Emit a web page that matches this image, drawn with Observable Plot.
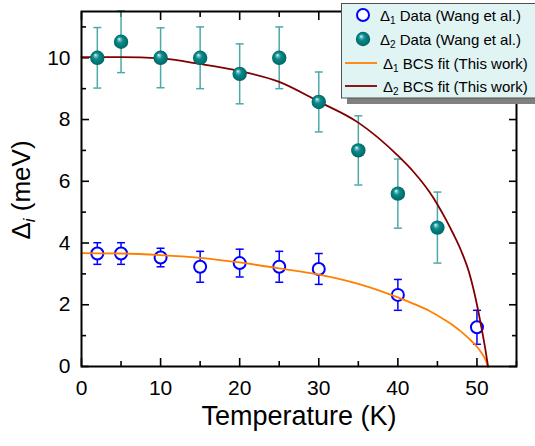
<!DOCTYPE html>
<html><head><meta charset="utf-8">
<script src="https://cdn.jsdelivr.net/npm/d3@7"></script>
<script src="https://cdn.jsdelivr.net/npm/@observablehq/plot@0.6"></script>
<style>html,body{margin:0;padding:0;background:#fff;overflow:hidden}</style>
</head><body><div id="chart"></div>
<script>
// Δ1 data (Wang et al.)
const T1 = [2, 5, 10, 15, 20, 25, 30, 40, 50];
const D1 = [3.66, 3.66, 3.53, 3.23, 3.35, 3.23, 3.16, 2.32, 1.27];
const E1 = [0.35, 0.35, 0.30, 0.50, 0.45, 0.50, 0.50, 0.50, 0.55];
// Δ2 data (Wang et al.)
const T2 = [2, 5, 10, 15, 20, 25, 30, 35, 40, 45];
const D2 = [10.0, 10.52, 10.0, 10.0, 9.48, 10.0, 8.57, 7.0, 5.6, 4.5];
const E2 = [0.98, 1.0, 0.97, 1.0, 0.97, 1.0, 0.97, 1.12, 1.12, 1.15];
// BCS fit curves
const FT1 = [0, 5, 10, 15, 20, 25, 30, 35, 40, 42, 44, 46, 47, 48, 49, 50, 50.5, 51, 51.4];
const FD1 = [3.67, 3.66, 3.61, 3.52, 3.37, 3.18, 2.98, 2.68, 2.24, 2.03, 1.8, 1.5, 1.33, 1.13, 0.9, 0.64, 0.47, 0.26, 0];
const FT2 = [0, 5, 10, 15, 20, 25, 30, 35, 40, 42, 44, 45, 46, 47, 48, 49, 50, 50.5, 51, 51.4];
const FD2 = [10.02, 10.02, 9.98, 9.8, 9.57, 9.22, 8.58, 7.9, 6.83, 6.3, 5.65, 5.25, 4.8, 4.3, 3.75, 3.05, 2.0, 1.35, 0.65, 0];
// ticks
const xMajor = [0, 10, 20, 30, 40, 50];
const xMinor = [5, 15, 25, 35, 45, 55];
const yMajor = [0, 2, 4, 6, 8, 10];
const yMinor = [1, 3, 5, 7, 9, 11];
// labels
const xLabel = "Temperature (K)";
const legendLabels = ["Data (Wang et al.)", "Data (Wang et al.)", "BCS fit (This work)", "BCS fit (This work)"];

const d1 = T1.map((t, i) => ({T: t, v: D1[i], e: E1[i]}));
const d2 = T2.map((t, i) => ({T: t, v: D2[i], e: E2[i]}));
const f1 = FT1.map((t, i) => ({T: t, v: FD1[i]}));
const f2 = FT2.map((t, i) => ({T: t, v: FD2[i]}));

const cap = {draw(ctx, size) { const w = Math.sqrt(size / Math.PI); ctx.moveTo(-w, 0); ctx.lineTo(w, 0); }};

const blue = "#0000ff", tealBar = "#4fa8a8", orange = "#ff8000", dred = "#800000";
const font = "Liberation Sans, Arial, sans-serif";

function errMarks(data, color) {
  return [
    Plot.ruleX(data, {x: "T", y1: d => d.v - d.e, y2: d => d.v + d.e, stroke: color, strokeWidth: 1.5}),
    Plot.dot(data, {x: "T", y: d => d.v + d.e, symbol: cap, r: 4, stroke: color, strokeWidth: 1.5, fill: "none"}),
    Plot.dot(data, {x: "T", y: d => d.v - d.e, symbol: cap, r: 4, stroke: color, strokeWidth: 1.5, fill: "none"})
  ];
}

const chart = Plot.plot({
  width: 535, height: 446,
  marginLeft: 81, marginRight: 19, marginTop: 11, marginBottom: 80,
  style: {fontFamily: font, background: "white", color: "black", overflow: "visible"},
  x: {domain: [0, 55]},
  y: {domain: [0, 11.5]},
  marks: [
    Plot.axisX({anchor: "bottom", ticks: xMajor, tickSize: -8, tickPadding: 22, fontSize: 21, strokeWidth: 1.6, label: null, tickFormat: d => String(d)}),
    Plot.axisX({anchor: "bottom", ticks: xMinor, tickSize: -5, strokeWidth: 1.6, label: null, tickFormat: () => ""}),
    Plot.axisX({anchor: "top", ticks: xMajor, tickSize: -8, strokeWidth: 1.6, label: null, tickFormat: () => ""}),
    Plot.axisX({anchor: "top", ticks: xMinor, tickSize: -5, strokeWidth: 1.6, label: null, tickFormat: () => ""}),
    Plot.axisY({anchor: "left", ticks: yMajor, tickSize: -8, tickPadding: 19, fontSize: 21, strokeWidth: 1.6, label: null, tickFormat: d => String(d)}),
    Plot.axisY({anchor: "left", ticks: yMinor, tickSize: -5, strokeWidth: 1.6, label: null, tickFormat: () => ""}),
    Plot.axisY({anchor: "right", ticks: yMajor, tickSize: -8, strokeWidth: 1.6, label: null, tickFormat: () => ""}),
    Plot.axisY({anchor: "right", ticks: yMinor, tickSize: -5, strokeWidth: 1.6, label: null, tickFormat: () => ""}),
    ...errMarks(d2, tealBar),
    ...errMarks(d1, blue),
    Plot.dot(d1, {x: "T", y: "v", r: 6, stroke: blue, strokeWidth: 2, fill: "white"}),
    Plot.line(f1, {x: "T", y: "v", stroke: orange, strokeWidth: 1.8, curve: "monotone-x"}),
    Plot.line(f2, {x: "T", y: "v", stroke: dred, strokeWidth: 1.8, curve: "monotone-x"}),
    Plot.dot(d2, {x: "T", y: "v", r: 7.2, fill: "url(#sphere)", stroke: "none"}),
    Plot.frame({stroke: "black", strokeWidth: 2}),
    Plot.text([xLabel], {frameAnchor: "bottom", dy: 58, fontSize: 27, text: d => d, fill: "black"})
  ]
});

const svg = d3.select(chart);
const defs = svg.insert("defs", ":first-child");
const g = defs.append("radialGradient").attr("id", "sphere").attr("cx", "0.5").attr("cy", "0.5").attr("r", "0.55").attr("fx", "0.36").attr("fy", "0.3");
g.append("stop").attr("offset", "0").attr("stop-color", "#f4ffff");
g.append("stop").attr("offset", "0.15").attr("stop-color", "#7cc4c4");
g.append("stop").attr("offset", "0.4").attr("stop-color", "#0a8a8a");
g.append("stop").attr("offset", "0.85").attr("stop-color", "#006c6c");
g.append("stop").attr("offset", "1").attr("stop-color", "#005050");

// y label
const yl = svg.append("text").attr("transform", "translate(30,190) rotate(-90)")
  .attr("text-anchor", "middle").attr("font-size", 26).attr("font-family", font).attr("fill", "black");
yl.append("tspan").text("Δ");
yl.append("tspan").text("i").attr("font-style", "italic").attr("font-size", 17).attr("dy", 5);
yl.append("tspan").text(" (meV)").attr("dy", -5);

// legend
const lg = svg.append("g").attr("font-family", font).attr("font-size", 15).attr("text-anchor", "start");
lg.append("rect").attr("x", 347).attr("y", 9).attr("width", 200).attr("height", 95).attr("fill", "#808080");
lg.append("rect").attr("x", 341.5).attr("y", 3.5).attr("width", 200).attr("height", 94.5).attr("fill", "#e0f4f4").attr("stroke", "#505050").attr("stroke-width", 1);
const rows = [15, 39, 63, 86];
lg.append("circle").attr("cx", 363).attr("cy", rows[0]).attr("r", 6).attr("fill", "white").attr("stroke", blue).attr("stroke-width", 2);
lg.append("circle").attr("cx", 363).attr("cy", rows[1]).attr("r", 7.2).attr("fill", "url(#sphere)");
lg.append("line").attr("x1", 345).attr("x2", 377).attr("y1", rows[2]).attr("y2", rows[2]).attr("stroke", orange).attr("stroke-width", 1.8);
lg.append("line").attr("x1", 345).attr("x2", 377).attr("y1", rows[3]).attr("y2", rows[3]).attr("stroke", dred).attr("stroke-width", 1.8);
rows.forEach((y, i) => {
  const t = lg.append("text").attr("x", i < 2 ? 380 : 383).attr("y", y + 5.5).attr("fill", "black").attr("text-anchor", "start");
  t.append("tspan").text("Δ");
  t.append("tspan").text(i % 2 === 0 ? "1" : "2").attr("font-size", 10).attr("dy", 3);
  t.append("tspan").text(" " + legendLabels[i]).attr("dy", -3);
});

document.getElementById("chart").append(chart);
</script></body></html>
